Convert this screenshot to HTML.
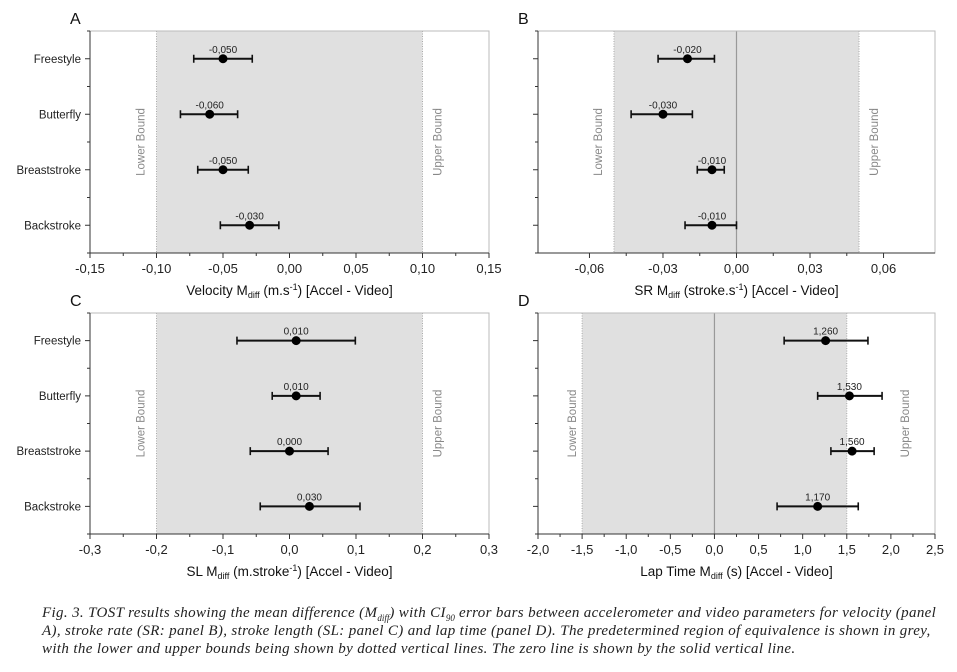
<!DOCTYPE html>
<html><head><meta charset="utf-8"><style>
body{margin:0;background:#fff;width:957px;height:672px;overflow:hidden;font-family:"Liberation Sans",sans-serif}
svg{position:absolute;left:0;top:0}
#cap{position:absolute;left:42px;top:604px;width:915px;font-family:"Liberation Serif",serif;font-style:italic;font-size:15px;letter-spacing:0.35px;line-height:18px;color:#222;white-space:nowrap}
#cap sub{font-size:9px;line-height:0;letter-spacing:0}
</style></head><body>
<svg id="chart" width="957" height="600"></svg>
<div id="cap">Fig. 3. TOST results showing the mean difference (M<sub>diff</sub>) with CI<sub>90</sub> error bars between accelerometer and video parameters for velocity (panel<br>A), stroke rate (SR: panel B), stroke length (SL: panel C) and lap time (panel D). The predetermined region of equivalence is shown in grey,<br>with the lower and upper bounds being shown by dotted vertical lines. The zero line is shown by the solid vertical line.</div>
<script>
const categories=["Freestyle","Butterfly","Breaststroke","Backstroke"];
const velMean=[-0.050,-0.060,-0.050,-0.030];
const velLo=[-0.072,-0.082,-0.069,-0.052];
const velHi=[-0.028,-0.039,-0.031,-0.008];
const velLabels=["-0,050","-0,060","-0,050","-0,030"];
const velTicks=[-0.15,-0.10,-0.05,0,0.05,0.10,0.15];
const velTickLabels=["-0,15","-0,10","-0,05","0,00","0,05","0,10","0,15"];
const srMean=[-0.020,-0.030,-0.010,-0.010];
const srLo=[-0.032,-0.043,-0.016,-0.021];
const srHi=[-0.009,-0.018,-0.005,0.000];
const srLabels=["-0,020","-0,030","-0,010","-0,010"];
const srTicks=[-0.06,-0.03,0,0.03,0.06];
const srTickLabels=["-0,06","-0,03","0,00","0,03","0,06"];
const slMean=[0.010,0.010,0.000,0.030];
const slLo=[-0.079,-0.026,-0.059,-0.044];
const slHi=[0.099,0.046,0.058,0.106];
const slLabels=["0,010","0,010","0,000","0,030"];
const slTicks=[-0.3,-0.2,-0.1,0,0.1,0.2,0.3];
const slTickLabels=["-0,3","-0,2","-0,1","0,0","0,1","0,2","0,3"];
const lapMean=[1.26,1.53,1.56,1.17];
const lapLo=[0.79,1.17,1.32,0.71];
const lapHi=[1.74,1.90,1.81,1.63];
const lapLabels=["1,260","1,530","1,560","1,170"];
const lapTicks=[-2,-1.5,-1,-0.5,0,0.5,1,1.5,2,2.5];
const lapTickLabels=["-2,0","-1,5","-1,0","-0,5","0,0","0,5","1,0","1,5","2,0","2,5"];

const svg=document.getElementById('chart');
const NS="http://www.w3.org/2000/svg";
function mk(tag,attrs,parent,text){const e=document.createElementNS(NS,tag);for(const k in attrs)e.setAttribute(k,attrs[k]);if(text!==undefined)e.textContent=text;(parent||svg).appendChild(e);return e;}

function panel(o){
  const g=mk('g',{});
  
  
  const x=v=>o.x0+(v-o.dmin)/(o.dmax-o.dmin)*(o.x1-o.x0);
  const h=o.y1-o.y0, step=h/4;
  const y=i=>o.y0+step*(i+0.5);
  const band=mk('rect',{x:x(-o.bound),y:o.y0,width:x(o.bound)-x(-o.bound),height:h,fill:'#e0e0e0'},g);
  
  
  [-o.bound,o.bound].forEach(b=>{const l=mk('line',{x1:x(b),x2:x(b),y1:o.y0,y2:o.y1,stroke:'#aaa','stroke-dasharray':'1,1.5'},g);
    
    });
  if(o.zero){const z=mk('line',{x1:x(0),x2:x(0),y1:o.y0,y2:o.y1,stroke:'#999','stroke-width':1.2},g);
    
    }
  const cy=(o.y0+o.y1)/2;
  const lx=x(-o.bound)-o.lbOff, ux=x(o.bound)+o.ubOff;
  const lb=mk('text',{x:lx,y:cy,transform:`rotate(-90 ${lx} ${cy})`,'text-anchor':'middle','font-size':11.5,fill:'#888'},g,'Lower Bound');
  
  
  const ub=mk('text',{x:ux,y:cy,transform:`rotate(-90 ${ux} ${cy})`,'text-anchor':'middle','font-size':11.5,fill:'#888'},g,'Upper Bound');
  
  
  const fr=mk('rect',{x:o.x0,y:o.y0,width:o.x1-o.x0,height:h,fill:'none',stroke:'#bbb','stroke-width':1},g);
  
  
  mk('line',{x1:o.x0,x2:o.x1,y1:o.y1,y2:o.y1,stroke:'#333'},g);
  mk('line',{x1:o.x0,x2:o.x0,y1:o.y0,y2:o.y1,stroke:'#333'},g);
  o.ticks.forEach((t,i)=>{
    mk('line',{x1:x(t),x2:x(t),y1:o.y1,y2:o.y1+5,stroke:'#333'},g);
    if(i<o.ticks.length-1){const m=(t+o.ticks[i+1])/2;mk('line',{x1:x(m),x2:x(m),y1:o.y1,y2:o.y1+3,stroke:'#333'},g);}
    const tl=mk('text',{x:x(t),y:o.y1+20,'text-anchor':'middle','font-size':13,fill:'#222'},g,o.tickLabels[i]);
    
    
  });
  for(let i=0;i<=4;i++){mk('line',{x1:o.x0,x2:o.x0-3,y1:o.y0+step*i,y2:o.y0+step*i,stroke:'#333'},g);}
  categories.forEach((c,i)=>{
    mk('line',{x1:o.x0,x2:o.x0-5,y1:y(i),y2:y(i),stroke:'#333'},g);
    if(o.showCats){const cl=mk('text',{x:o.x0-9,y:y(i)+4,'text-anchor':'end','font-size':11.5,fill:'#222'},g,c);
      
      }
    const eb=mk('g',{},g);
    
    
    mk('line',{x1:x(o.lo[i]),x2:x(o.hi[i]),y1:y(i),y2:y(i),stroke:'#111','stroke-width':2},eb);
    mk('line',{x1:x(o.lo[i]),x2:x(o.lo[i]),y1:y(i)-4,y2:y(i)+4,stroke:'#111','stroke-width':1.6},eb);
    mk('line',{x1:x(o.hi[i]),x2:x(o.hi[i]),y1:y(i)-4,y2:y(i)+4,stroke:'#111','stroke-width':1.6},eb);
    const pt=mk('circle',{cx:x(o.mean[i]),cy:y(i),r:4.5,fill:'#000'},g);
    
    
    const vl=mk('text',{x:x(o.mean[i]),y:y(i)-6,'text-anchor':'middle','font-size':10,fill:'#222'},g,o.labels[i]);
    
    
  });
  const pl=mk('text',{x:o.lx,y:o.ly,'font-size':16,fill:'#111'},g,o.letter);
  
  
  const xt=mk('text',{x:(o.x0+o.x1)/2,y:o.y1+42,'text-anchor':'middle','font-size':13.5,fill:'#111'},g);
  
  
  xt.innerHTML=o.title;
}
panel({letter:'A',lx:70,ly:24,x0:90,x1:489,y0:31,y1:253,dmin:-0.15,dmax:0.15,bound:0.1,lbOff:12,ubOff:19,zero:false,showCats:true,mean:velMean,lo:velLo,hi:velHi,labels:velLabels,ticks:velTicks,tickLabels:velTickLabels,title:'Velocity M<tspan font-size="9" dy="3">diff</tspan><tspan dy="-3"> (m.s</tspan><tspan font-size="9" dy="-5">-1</tspan><tspan dy="5">) [Accel - Video]</tspan>'});
panel({letter:'B',lx:518,ly:24,x0:538,x1:935,y0:31,y1:253,dmin:-0.081,dmax:0.081,bound:0.05,lbOff:12,ubOff:19,zero:true,showCats:false,mean:srMean,lo:srLo,hi:srHi,labels:srLabels,ticks:srTicks,tickLabels:srTickLabels,title:'SR M<tspan font-size="9" dy="3">diff</tspan><tspan dy="-3"> (stroke.s</tspan><tspan font-size="9" dy="-5">-1</tspan><tspan dy="5">) [Accel - Video]</tspan>'});
panel({letter:'C',lx:70,ly:306,x0:90,x1:489,y0:313,y1:534,dmin:-0.3,dmax:0.3,bound:0.2,lbOff:12,ubOff:19,zero:false,showCats:true,mean:slMean,lo:slLo,hi:slHi,labels:slLabels,ticks:slTicks,tickLabels:slTickLabels,title:'SL M<tspan font-size="9" dy="3">diff</tspan><tspan dy="-3"> (m.stroke</tspan><tspan font-size="9" dy="-5">-1</tspan><tspan dy="5">) [Accel - Video]</tspan>'});
panel({letter:'D',lx:518,ly:306,x0:538,x1:935,y0:313,y1:534,dmin:-2,dmax:2.5,bound:1.5,lbOff:6,ubOff:62,zero:true,showCats:false,mean:lapMean,lo:lapLo,hi:lapHi,labels:lapLabels,ticks:lapTicks,tickLabels:lapTickLabels,title:'Lap Time M<tspan font-size="9" dy="3">diff</tspan><tspan dy="-3"> (s) [Accel - Video]</tspan>'});
</script>
</body></html>
